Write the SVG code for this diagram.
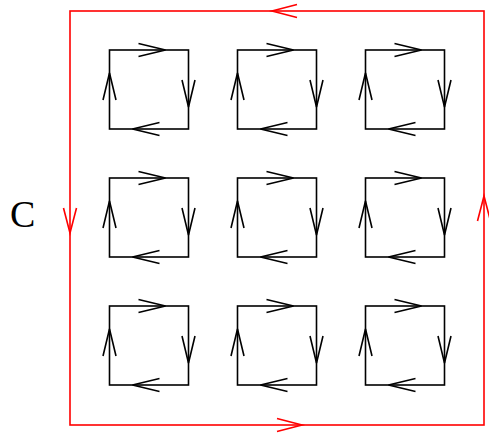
<svg xmlns="http://www.w3.org/2000/svg" xmlns:xlink="http://www.w3.org/1999/xlink" width="489" height="434" viewBox="0 0 489 434">
<style>
.loop{fill:none;stroke:#000;stroke-width:1.6;stroke-linejoin:miter}
.big{fill:none;stroke:#ff0000;stroke-width:1.6}
.lbl{font-family:"Liberation Serif",serif;font-size:38px;fill:#000}
</style>
<defs>
<path id="ah" d="M-27,-6.5 L0,0 L-27,6.5" fill="none"/>
<path id="rh" d="M-25,-6.5 L0,0 L-25,6.5" fill="none"/>
<g id="cell" class="loop">
<rect x="0" y="0" width="79" height="79"/>
<use xlink:href="#ah" href="#ah" transform="translate(56,0)"/>
<use xlink:href="#ah" href="#ah" transform="translate(79,57) rotate(90)"/>
<use xlink:href="#ah" href="#ah" transform="translate(23,79) rotate(180)"/>
<use xlink:href="#ah" href="#ah" transform="translate(0,23) rotate(-90)"/>
</g>
</defs>
<rect fill="#fff" x="0" y="0" width="489" height="434"/>
<g id="curve-C" class="big">
<rect x="70" y="11" width="414" height="414"/>
<use xlink:href="#rh" href="#rh" transform="translate(272,11) rotate(180)"/>
<use xlink:href="#rh" href="#rh" transform="translate(70,233) rotate(90)"/>
<use xlink:href="#rh" href="#rh" transform="translate(302,425)"/>
<use xlink:href="#rh" href="#rh" transform="translate(484,196) rotate(-90)"/>
</g>
<text id="label-C" class="lbl" x="10" y="227">C</text>
<g id="cell-1-1"><use xlink:href="#cell" href="#cell" transform="translate(109.5,50)"/></g>
<g id="cell-1-2"><use xlink:href="#cell" href="#cell" transform="translate(237.5,50)"/></g>
<g id="cell-1-3"><use xlink:href="#cell" href="#cell" transform="translate(365.5,50)"/></g>
<g id="cell-2-1"><use xlink:href="#cell" href="#cell" transform="translate(109.5,178)"/></g>
<g id="cell-2-2"><use xlink:href="#cell" href="#cell" transform="translate(237.5,178)"/></g>
<g id="cell-2-3"><use xlink:href="#cell" href="#cell" transform="translate(365.5,178)"/></g>
<g id="cell-3-1"><use xlink:href="#cell" href="#cell" transform="translate(109.5,306)"/></g>
<g id="cell-3-2"><use xlink:href="#cell" href="#cell" transform="translate(237.5,306)"/></g>
<g id="cell-3-3"><use xlink:href="#cell" href="#cell" transform="translate(365.5,306)"/></g>
</svg>
